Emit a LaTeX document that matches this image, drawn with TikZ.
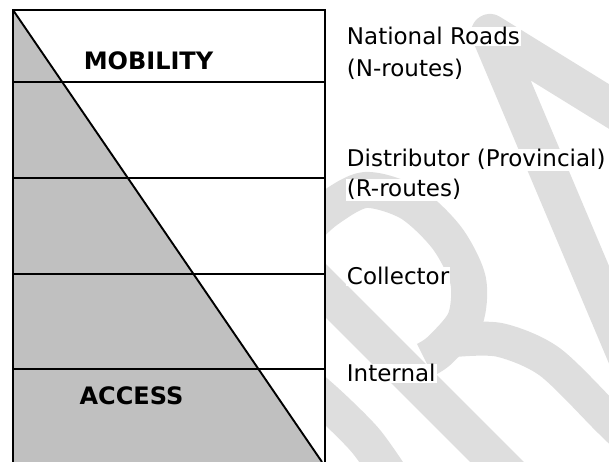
\documentclass[tikz,border=0pt]{standalone}
\usepackage{fontspec}
\setmainfont{DejaVu Sans}
\usetikzlibrary{positioning}

\definecolor{accessgray}{RGB}{192,192,192}
\definecolor{wmgray}{RGB}{222,222,222}

\tikzset{
  roadtxt/.style={anchor=base west, fill=white, inner sep=1pt,
    font=\fontsize{23}{28}\selectfont},
  headtxt/.style={anchor=base, inner sep=0pt,
    font=\fontsize{24}{28}\selectfont\bfseries},
  wmstroke/.style={draw=wmgray, line width=36pt, line join=round},
}

\begin{document}
\begin{tikzpicture}[
  x=1pt, y=1pt,
  line width=1.9pt,
]
\useasboundingbox (0,0) rectangle (609,462);
% watermark letters, behind everything
\begin{scope}
\clip (0,0) rectangle (609,462);
\draw[wmstroke, line width=38pt] (660,324) -- (490,429) -- (645,62);
\draw[wmstroke, line width=38pt] (250,247) -- (530,-33);
\draw[wmstroke] plot[smooth] coordinates {(300,227) (327,252) (365,272)
  (410,259) (447,224) (468,182) (465,142) (440,112) (425,102)};
\draw[wmstroke, line width=34pt] plot[smooth] coordinates {(455,122) (500,122)
  (550,100) (609,42) (640,12)};
\draw[wmstroke] plot[smooth] coordinates {(290,92) (330,57) (365,22) (390,-13)};
\end{scope}

% table
\fill[white] (13,0) rectangle (325,452);
\fill[accessgray] (13,452) -- (322,0) -- (13,0) -- cycle;
\draw (13,0) -- (13,452) -- (325,452) -- (325,0);
\foreach \y in {380,284,188,93}
  \draw (13,\y) -- (325,\y);
\draw (13,452) -- (322,0);

\node[headtxt] (mob) at (148.5,392) {MOBILITY};
\node[headtxt] (acc) at (131.5,57) {ACCESS};

% road classes
\node[roadtxt] (natA) at (345,417) {National Roads};
\node[roadtxt] (natB) at (345,385) {(N-routes)};
\node[roadtxt] (disA) at (345,295) {Distributor (Provincial)};
\node[roadtxt] (disB) at (345,265) {(R-routes)};
\node[roadtxt] (col) at (345,177) {Collector};
\node[roadtxt] (int) at (345,80) {Internal};
\end{tikzpicture}
\end{document}
